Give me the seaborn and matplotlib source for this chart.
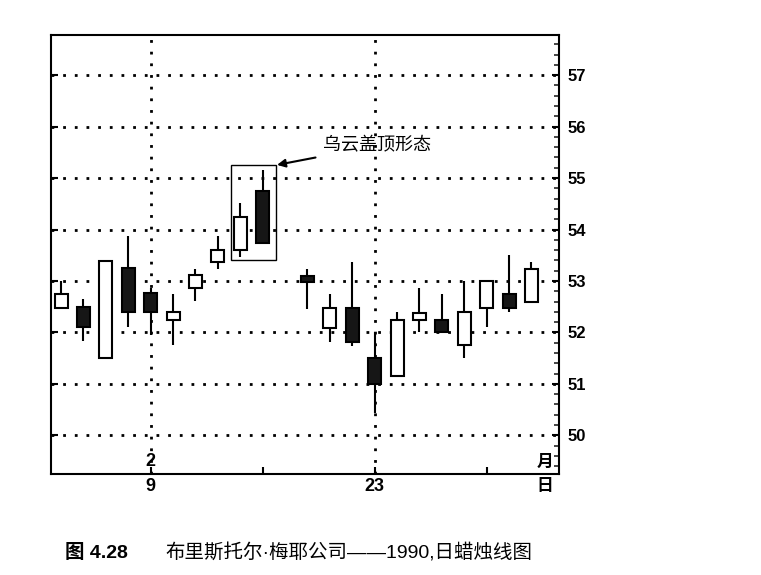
import numpy as np
import pandas as pd
import seaborn as sns
import matplotlib.pyplot as plt
import matplotlib.transforms as mtransforms
from matplotlib.patches import Rectangle
from matplotlib.ticker import MultipleLocator

# daily candles, Bristol-Myers, Feb - Mar 1990
dates = ["1990-02-05", "1990-02-06", "1990-02-07", "1990-02-08", "1990-02-09",
         "1990-02-12", "1990-02-13", "1990-02-14", "1990-02-15", "1990-02-16",
         "1990-02-20", "1990-02-21", "1990-02-22", "1990-02-23",
         "1990-02-26", "1990-02-27", "1990-02-28", "1990-03-01", "1990-03-02",
         "1990-03-05", "1990-03-06"]
opens = [52.48, 52.50, 51.50, 53.25, 52.77, 52.24, 52.86, 53.37, 53.60, 54.75,
         53.10, 52.08, 52.48, 51.51, 51.15, 52.25, 52.25, 51.75, 52.47, 52.74, 52.60]
highs = [53.00, 52.64, 53.38, 53.87, 52.87, 52.75, 53.24, 53.87, 54.52, 55.15,
         53.24, 52.74, 53.37, 52.00, 52.39, 52.86, 52.74, 53.00, 53.00, 53.50, 53.37]
lows = [52.48, 51.84, 51.50, 52.10, 51.95, 51.75, 52.61, 53.23, 53.47, 53.74,
        52.46, 51.82, 51.74, 50.44, 51.15, 52.00, 52.00, 51.50, 52.10, 52.40, 52.60]
closes = [52.75, 52.10, 53.38, 52.40, 52.40, 52.40, 53.12, 53.61, 54.24, 53.74,
          52.98, 52.48, 51.82, 51.00, 52.25, 52.38, 52.00, 52.40, 53.00, 52.47, 53.24]

tick_days = ["1990-02-09", "1990-02-16", "1990-02-23", "1990-03-02"]
tick_text = ["9", "", "23", ""]
grid_days = ["1990-02-09", "1990-02-23"]
price_ticks = [50, 51, 52, 53, 54, 55, 56, 57]
month_label = "2"
pattern_days = ["1990-02-15", "1990-02-16"]
pattern_label = "乌云盖顶形态"
caption_no = "图 4.28"
caption_text = "布里斯托尔·梅耶公司——1990,日蜡烛线图"

calendar = pd.bdate_range("1990-02-05", "1990-03-06")


def pos(day):
    return calendar.get_loc(pd.Timestamp(day))


df = pd.DataFrame({"date": dates, "open": opens, "high": highs,
                   "low": lows, "close": closes})
df["x"] = [pos(d) for d in df.date]
df["up"] = df.close >= df.open

sns.set_theme(style="ticks")
plt.rcParams["font.family"] = ["Liberation Sans", "Noto Sans CJK SC", "DejaVu Sans"]
plt.rcParams["axes.linewidth"] = 1.5
plt.rcParams["axes.edgecolor"] = "black"
plt.rcParams["text.color"] = "black"

fig = plt.figure(figsize=(7.61, 5.75), dpi=100)
ax = fig.add_axes([0.067, 0.1757, 0.6676, 0.7635])

dots = (0, (1, 3.2))

# wicks and bodies
ax.vlines(df.x, df.low, df.high, color="black", lw=1.5, zorder=2)
bottoms = np.minimum(df.open, df.close)
heights = (df.close - df.open).abs()
colors = np.where(df.up, "white", "#161616")
ax.bar(df.x, heights, width=0.58, bottom=bottoms, color=colors,
       edgecolor="black", linewidth=1.5, zorder=3)

# grid
ax.set_yticks(price_ticks)
ax.yaxis.set_minor_locator(MultipleLocator(0.2))
ax.yaxis.grid(True, which="major", linestyle=dots, lw=2, color="black")
ax.set_axisbelow(True)
for d in grid_days:
    ax.axvline(pos(d), linestyle=dots, lw=2, color="black", zorder=1)

ax.set_xlim(-0.45, 22.23)
ax.set_ylim(49.25, 57.78)

ax.tick_params(axis="y", which="major", direction="in", left=True, right=True,
               labelleft=False, labelright=True, length=5, width=1.5,
               labelsize=12, pad=6, colors="black")
ax.tick_params(axis="y", which="minor", direction="in", left=False, right=True,
               length=3.5, width=1.2)
for lab in ax.get_yticklabels():
    lab.set_fontweight("bold")

ax.set_xticks([pos(d) for d in tick_days])
ax.set_xticklabels(tick_text, fontweight="bold", fontsize=13)
ax.tick_params(axis="x", direction="in", length=5, width=1.5, pad=3,
               top=False, colors="black")

# month / day markers
trans = mtransforms.blended_transform_factory(ax.transData, ax.transAxes)
ax.text(pos(grid_days[0]), 0.01, month_label, transform=trans, ha="center",
        va="bottom", fontsize=13, fontweight="bold")
ax.text(0.972, 0.01, "月", transform=ax.transAxes, ha="center", va="bottom",
        fontsize=12, fontweight="bold")
ax.text(0.972, -0.012, "日", transform=ax.transAxes, ha="center", va="top",
        fontsize=12, fontweight="bold")

# dark cloud cover box + label
p = df[df.date.isin(pattern_days)]
x0, x1 = p.x.min() - 0.43, p.x.max() + 0.58
y0, y1 = p.low.min() - 0.07, p.high.max() + 0.1
ax.add_patch(Rectangle((x0, y0), x1 - x0, y1 - y0, fill=False, lw=1,
                       ec="black", zorder=4))
ax.annotate(pattern_label, xy=(x1, y1), xytext=(34, 14),
            textcoords="offset points", fontsize=13, fontweight="medium",
            ha="left", va="center",
            arrowprops=dict(arrowstyle="-|>", color="black", lw=1.5,
                            shrinkA=3, shrinkB=1, mutation_scale=12))

fig.text(65 / 761, 1 - 553 / 575, caption_no, fontsize=14, fontweight="bold",
         ha="left", va="center")
fig.text(165 / 761, 1 - 553 / 575, caption_text, fontsize=14,
         ha="left", va="center")

fig.savefig("out.png", dpi=100)
